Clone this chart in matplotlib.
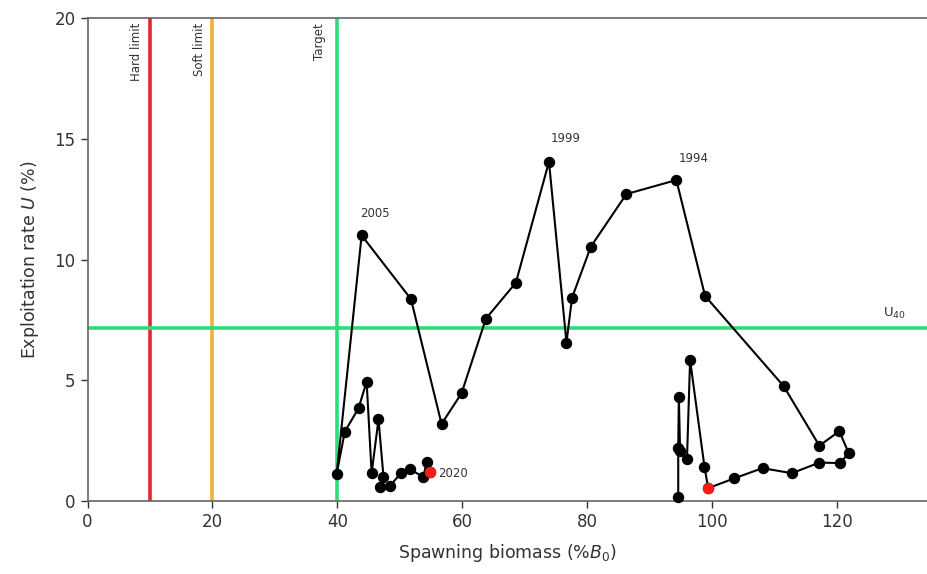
import matplotlib.pyplot as plt

# trajectory (chronological order)
biomass = [94.6, 94.6, 94.7, 94.9, 96.0, 96.5, 98.8, 99.4, 103.6, 108.1,
           112.8, 117.2, 120.5, 121.9, 120.4, 117.2, 111.5, 98.9, 94.3, 86.3,
           80.6, 77.6, 76.7, 73.9, 68.6, 63.8, 59.9, 56.7, 51.8, 43.9,
           39.9, 41.2, 43.4, 44.7, 45.5, 46.6, 47.4, 46.8, 48.4, 50.2,
           51.6, 53.8, 54.3, 54.8]
exploit = [0.18, 2.18, 4.32, 2.05, 1.72, 5.84, 1.42, 0.53, 0.94, 1.36,
           1.15, 1.59, 1.57, 1.98, 2.89, 2.29, 4.75, 8.49, 13.29, 12.71,
           10.53, 8.42, 6.56, 14.05, 9.04, 7.55, 4.46, 3.19, 8.36, 11.0,
           1.12, 2.87, 3.84, 4.94, 1.15, 3.38, 1.0, 0.59, 0.62, 1.15,
           1.31, 1.0, 1.63, 1.2]
red_idx = [7, len(biomass) - 1]

year_labels = ["2005", "1999", "1994", "2020"]
year_pos = [(46.0, 11.9), (76.5, 15.0), (97.0, 14.2), (56.1, 1.15)]

hard_limit = 10
soft_limit = 20
target = 40
u40 = 7.16

RED = "#e2282c"
ORANGE = "#f2b035"
GREEN = "#2edc78"
TXT = "#333333"

fig = plt.figure(figsize=(9.28, 5.74), dpi=100)
ax = fig.add_axes([0.0943, 0.1272, 0.9057, 0.8414])

ax.axvline(hard_limit, color=RED, lw=2.6, zorder=1)
ax.axvline(soft_limit, color=ORANGE, lw=2.6, zorder=1)
ax.axvline(target, color=GREEN, lw=2.6, zorder=1)
ax.axhline(u40, color=GREEN, lw=2.6, zorder=1)

ax.plot(biomass, exploit, color="black", lw=1.5, marker="o", ms=7.2,
        zorder=3, clip_on=False)
ax.plot([biomass[i] for i in red_idx], [exploit[i] for i in red_idx], "o",
        color="#ff1a1a", ms=7.2, zorder=4, clip_on=False)

for lab, (x, y) in zip(year_labels, year_pos):
    ha = "left" if lab == "2020" else "center"
    ax.text(x, y, lab, fontsize=8.5, color=TXT, ha=ha, va="center")

ax.text(7.9, 19.8, "Hard limit", rotation=90, fontsize=8.5, color=TXT,
        ha="center", va="top")
ax.text(18.0, 19.8, "Soft limit", rotation=90, fontsize=8.5, color=TXT,
        ha="center", va="top")
ax.text(37.2, 19.8, "Target", rotation=90, fontsize=8.5, color=TXT,
        ha="center", va="top")
ax.text(129.3, 7.75, r"U$_{40}$", fontsize=9.5, color=TXT, ha="center",
        va="center")

ax.set_xlim(0, 134.6)
ax.set_ylim(0, 20)
ax.set_xticks(range(0, 121, 20))
ax.set_yticks(range(0, 21, 5))
ax.tick_params(colors=TXT, labelsize=12, length=5, width=1, direction="out")
for s in ("left", "bottom", "top"):
    ax.spines[s].set_color("#666666")
    ax.spines[s].set_linewidth(1.2)
ax.spines["right"].set_visible(False)

ax.set_xlabel(r"Spawning biomass (%$\it{B}$$_0$)", fontsize=12.5, color=TXT,
              labelpad=8)
ax.set_ylabel(r"Exploitation rate $\it{U}$ (%)", fontsize=12.5, color=TXT,
              labelpad=10)

fig.savefig("out.png", dpi=100)
